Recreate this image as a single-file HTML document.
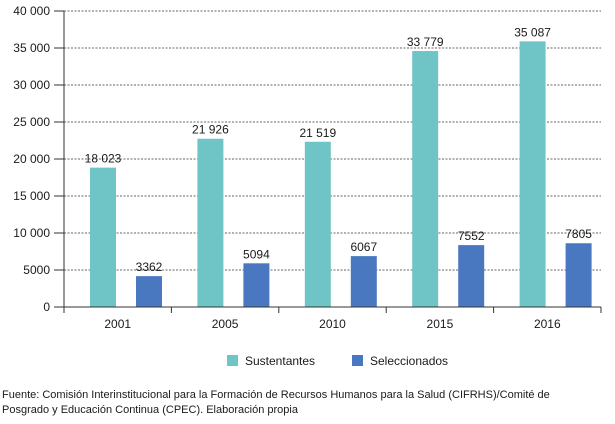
<!DOCTYPE html>
<html><head><meta charset="utf-8"><style>
body{margin:0;background:#fff;width:615px;height:419px;overflow:hidden;font-family:"Liberation Sans",sans-serif}
svg text{font-family:"Liberation Sans",sans-serif;fill:#1a1a1a}
</style></head><body>
<svg width="615" height="419">
<g id="grid"></g><g id="bars"></g><g id="axes"></g>
<g>
<rect x="227" y="355" width="11" height="11" fill="#6fc5c6"/>
<text x="245" y="365" font-size="12">Sustentantes</text>
<rect x="352" y="355" width="11" height="11" fill="#4a78c0"/>
<text x="370" y="365" font-size="12">Seleccionados</text>
</g>
<text x="2" y="398" font-size="11">Fuente: Comisión Interinstitucional para la Formación de Recursos Humanos para la Salud (CIFRHS)/Comité de</text>
<text x="2" y="413" font-size="11">Posgrado y Educación Continua (CPEC). Elaboración propia</text>
</svg>
<script>
const categories=["2001","2005","2010","2015","2016"];
const sustentantes=[18023,21926,21519,33779,35087];
const seleccionados=[3362,5094,6067,7552,7805];
const sustLabels=["18 023","21 926","21 519","33 779","35 087"];
const selLabels=["3362","5094","6067","7552","7805"];
const yTicks=[0,5000,10000,15000,20000,25000,30000,35000,40000];
const yTickLabels=["0","5000","10 000","15 000","20 000","25 000","30 000","35 000","40 000"];
const NS="http://www.w3.org/2000/svg";
const x0=64,x1=601,yb=307,yt=11,ymax=40000;
const cw=(x1-x0)/categories.length;
const y=v=>yb-(v/ymax)*(yb-yt);
function mk(t,a,p){const e=document.createElementNS(NS,t);for(const k in a)e.setAttribute(k,a[k]);p.appendChild(e);return e;}
const grid=document.getElementById('grid'),bars=document.getElementById('bars'),axes=document.getElementById('axes');
yTicks.forEach((v,i)=>{
 if(v>0){const l=mk('line',{x1:x0,x2:x1,y1:y(v),y2:y(v),stroke:'#333','stroke-width':0.7,'stroke-dasharray':'2,1.5'},grid);
 
 }
 const tk=mk('line',{x1:x0-10,x2:x0,y1:y(v),y2:y(v),stroke:'#333'},axes);
 
 
 const t=mk('text',{x:x0-14,y:y(v)+4,'font-size':12,'text-anchor':'end'},axes);t.textContent=yTickLabels[i];
 
 
});
categories.forEach((c,i)=>{
 const cx=x0+i*cw;
 const b1=mk('rect',{x:cx+26,y:y(sustentantes[i])-6,width:26,height:yb-y(sustentantes[i])+6,fill:'#6fc5c6'},bars);
 
 
 const b2=mk('rect',{x:cx+72,y:y(seleccionados[i])-6,width:26,height:yb-y(seleccionados[i])+6,fill:'#4a78c0'},bars);
 
 
 const l1=mk('text',{x:cx+39,y:y(sustentantes[i])-11,'font-size':12,'text-anchor':'middle'},bars);l1.textContent=sustLabels[i];
 
 
 const l2=mk('text',{x:cx+85,y:y(seleccionados[i])-11,'font-size':12,'text-anchor':'middle'},bars);l2.textContent=selLabels[i];
 
 
 const ct=mk('text',{x:cx+cw/2,y:yb+21,'font-size':12,'text-anchor':'middle'},axes);ct.textContent=c;
 
 
 const xt=mk('line',{x1:cx+cw,x2:cx+cw,y1:yb,y2:yb+6,stroke:'#333'},axes);
 
 
});
const ya=mk('line',{x1:x0,x2:x0,y1:yt,y2:yb+6,stroke:'#333'},axes);


const xa=mk('line',{x1:x0-10,x2:x1,y1:yb,y2:yb,stroke:'#333'},axes);


</script>
</body></html>
